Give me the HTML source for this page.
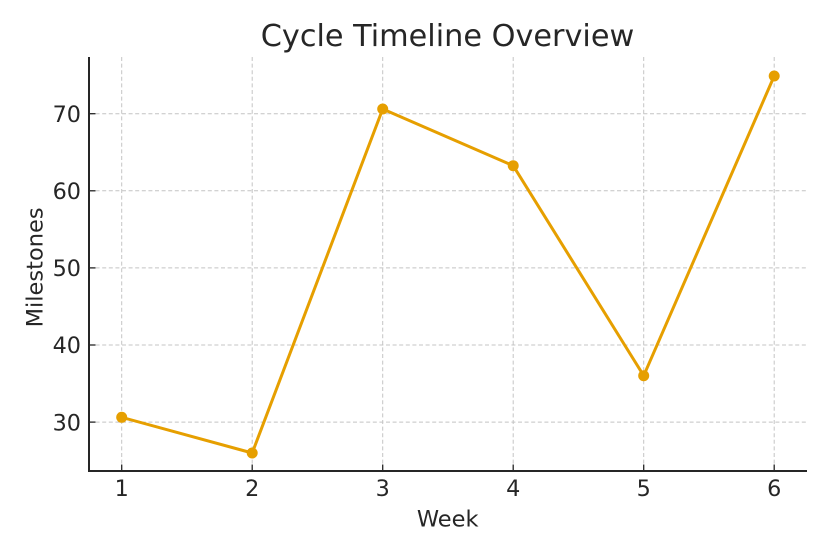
<!DOCTYPE html>
<html><head><meta charset="utf-8"><style>
html,body{margin:0;padding:0;background:#fff;}
svg{display:block;}
text{font-family:"DejaVu Sans","Liberation Sans",sans-serif;fill:#262626;}
</style></head><body>
<svg width="829" height="554" viewBox="0 0 829 554" xmlns="http://www.w3.org/2000/svg">
<rect width="829" height="554" fill="#fff"/>
<g stroke="#c4c4c4" stroke-width="1" stroke-dasharray="4,2.6" fill="none">
<line x1="121.7" y1="57" x2="121.7" y2="471"/>
<line x1="252.2" y1="57" x2="252.2" y2="471"/>
<line x1="382.7" y1="57" x2="382.7" y2="471"/>
<line x1="513.2" y1="57" x2="513.2" y2="471"/>
<line x1="643.7" y1="57" x2="643.7" y2="471"/>
<line x1="774.2" y1="57" x2="774.2" y2="471"/>
<line x1="89" y1="113.7" x2="806" y2="113.7"/>
<line x1="89" y1="190.8" x2="806" y2="190.8"/>
<line x1="89" y1="267.9" x2="806" y2="267.9"/>
<line x1="89" y1="345" x2="806" y2="345"/>
<line x1="89" y1="422.1" x2="806" y2="422.1"/>
</g>
<g stroke="#262626" stroke-width="1.3">
<line x1="121.7" y1="471" x2="121.7" y2="464.5"/>
<line x1="252.2" y1="471" x2="252.2" y2="464.5"/>
<line x1="382.7" y1="471" x2="382.7" y2="464.5"/>
<line x1="513.2" y1="471" x2="513.2" y2="464.5"/>
<line x1="643.7" y1="471" x2="643.7" y2="464.5"/>
<line x1="774.2" y1="471" x2="774.2" y2="464.5"/>
<line x1="89" y1="113.7" x2="95.5" y2="113.7"/>
<line x1="89" y1="190.8" x2="95.5" y2="190.8"/>
<line x1="89" y1="267.9" x2="95.5" y2="267.9"/>
<line x1="89" y1="345" x2="95.5" y2="345"/>
<line x1="89" y1="422.1" x2="95.5" y2="422.1"/>
</g>
<g stroke="#262626" stroke-width="2" fill="none">
<line x1="89" y1="57" x2="89" y2="472"/>
<line x1="88" y1="471" x2="807" y2="471"/>
</g>
<polyline points="121.7,417.3 252.2,453 382.7,109 513.2,165.7 643.7,375.7 774.2,76" fill="none" stroke="#E69F00" stroke-width="3" stroke-linejoin="round"/>
<g fill="#E69F00">
<circle cx="121.7" cy="417.3" r="5.5"/>
<circle cx="252.2" cy="453" r="5.5"/>
<circle cx="382.7" cy="109" r="5.5"/>
<circle cx="513.2" cy="165.7" r="5.5"/>
<circle cx="643.7" cy="375.7" r="5.5"/>
<circle cx="774.2" cy="76" r="5.5"/>
</g>
<g font-size="22.3" text-anchor="middle">
<text x="121.7" y="496">1</text>
<text x="252.2" y="496">2</text>
<text x="382.7" y="496">3</text>
<text x="513.2" y="496">4</text>
<text x="643.7" y="496">5</text>
<text x="774.2" y="496">6</text>
</g>
<g font-size="22.3" text-anchor="end">
<text x="81" y="121.9">70</text>
<text x="81" y="199">60</text>
<text x="81" y="276.1">50</text>
<text x="81" y="353.2">40</text>
<text x="81" y="430.3">30</text>
</g>
<text x="447.7" y="526.7" font-size="22.5" text-anchor="middle">Week</text>
<text transform="translate(42.5,267.4) rotate(-90)" font-size="22.5" text-anchor="middle">Milestones</text>
<text x="447.5" y="46" font-size="30.3" text-anchor="middle" fill="#2b2b2b">Cycle Timeline Overview</text>
</svg>
</body></html>
